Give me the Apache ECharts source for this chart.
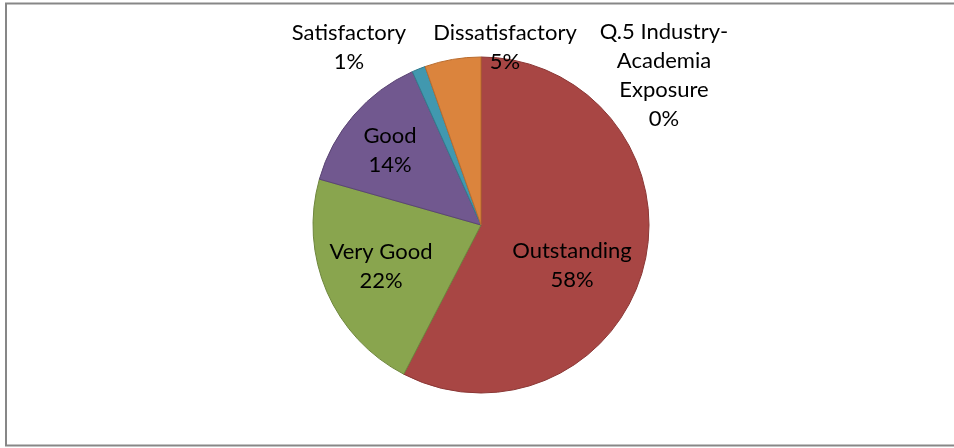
<!DOCTYPE html>
<html>
<head>
<meta charset="utf-8">
<script src="https://cdn.jsdelivr.net/npm/echarts@6/dist/echarts.min.js"></script>
<style>
  html, body { margin: 0; padding: 0; background: #fff; }
  #chart { width: 954px; height: 448px; }
</style>
</head>
<body>
<div id="chart"></div>
<script>
// slice names, clockwise from 12 o'clock
var names = ['Q.5 Industry-\nAcademia\nExposure', 'Outstanding', 'Very Good', 'Good', 'Satisfactory', 'Dissatisfactory'];
var values = [0, 57.6, 21.8, 13.9, 1.3, 5.4];
var fills = ['#4F81BD', '#A84644', '#89A54E', '#71588F', '#4198AF', '#DB843D'];
var edges = ['#3A6290', '#8A3634', '#6E863D', '#5A4573', '#327A8D', '#B96C2E'];

// where excel put each label (centre of text block)
var labelPos = [
  [664, 75],
  [572, 265],
  [381, 266],
  [390, 150],
  [349, 47],
  [505, 47]
];

var chart = echarts.init(document.getElementById('chart'));
chart.setOption({
  animation: false,
  graphic: [{
    type: 'rect',
    shape: { x: 6, y: 3.5, width: 1000, height: 442 },
    style: { fill: 'none', stroke: '#878787', lineWidth: 2 },
    silent: true
  }],
  series: [{
    type: 'pie',
    center: [481, 225],
    radius: 168,
    startAngle: 90,
    clockwise: true,
    percentPrecision: 0,
    avoidLabelOverlap: false,
    data: names.map(function (n, i) {
      return {
        name: n,
        value: values[i],
        itemStyle: { color: fills[i], borderColor: edges[i], borderWidth: values[i] ? 1 : 0 }
      };
    }),
    label: {
      show: true,
      formatter: '{b}\n{d}%',
      fontFamily: 'Lato',
      fontSize: 22,
      lineHeight: 29,
      color: '#000',
      align: 'center'
    },
    labelLine: { show: false },
    labelLayout: function (params) {
      var p = labelPos[params.dataIndex];
      return { x: p[0], y: p[1], align: 'center', verticalAlign: 'middle' };
    },
    emphasis: { disabled: true }
  }]
});
</script>
</body>
</html>
